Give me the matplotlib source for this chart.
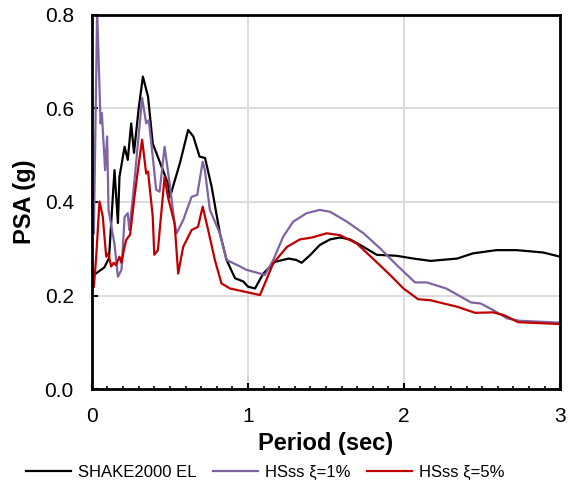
import numpy as np
import matplotlib
matplotlib.use("Agg")
from matplotlib import pyplot as plt
from matplotlib.ticker import MultipleLocator

plt.rcParams['font.family'] = ['Liberation Sans', 'DejaVu Sans']

# SHAKE2000 EL
t_shake = [0.013, 0.08, 0.11, 0.145, 0.167, 0.177, 0.21, 0.23, 0.252, 0.27,
           0.30, 0.327, 0.36, 0.39, 0.43, 0.487, 0.50, 0.564, 0.617, 0.65,
           0.69, 0.725, 0.767, 0.82, 0.863, 0.917, 0.97, 1.0, 1.045, 1.098,
           1.173, 1.26, 1.31, 1.344, 1.40, 1.46, 1.526, 1.59, 1.654, 1.74,
           1.825, 1.95, 2.06, 2.17, 2.34, 2.44, 2.59, 2.72, 2.89, 3.0]
psa_shake = [0.244, 0.26, 0.28, 0.468, 0.355, 0.454, 0.518, 0.49, 0.568, 0.505,
             0.60, 0.668, 0.625, 0.525, 0.49, 0.44, 0.41, 0.483, 0.554, 0.54,
             0.497, 0.494, 0.433, 0.333, 0.276, 0.237, 0.23, 0.219, 0.215, 0.247,
             0.272, 0.279, 0.276, 0.27, 0.287, 0.308, 0.32, 0.324, 0.32, 0.304,
             0.287, 0.285, 0.279, 0.274, 0.279, 0.29, 0.297, 0.297, 0.292, 0.283]

# HSss xi=1%
t_hs1 = [0.013, 0.034, 0.056, 0.064, 0.085, 0.098, 0.107, 0.145, 0.167, 0.19,
         0.21, 0.23, 0.24, 0.263, 0.295, 0.322, 0.348, 0.365, 0.39, 0.412,
         0.434, 0.466, 0.498, 0.53, 0.543, 0.585, 0.639, 0.675, 0.71, 0.724,
         0.756, 0.82, 0.863, 0.95, 0.99, 1.109, 1.162, 1.226, 1.29, 1.376,
         1.46, 1.526, 1.633, 1.74, 1.846, 1.953, 2.07, 2.145, 2.27, 2.43,
         2.49, 2.57, 2.66, 2.74, 3.0]
psa_hs1 = [0.333, 0.81, 0.568, 0.59, 0.468, 0.54, 0.383, 0.31, 0.24, 0.255,
           0.368, 0.376, 0.34, 0.41, 0.525, 0.622, 0.568, 0.575, 0.497, 0.426,
           0.422, 0.518, 0.44, 0.354, 0.333, 0.361, 0.411, 0.415, 0.486, 0.468,
           0.383, 0.333, 0.276, 0.262, 0.255, 0.244, 0.276, 0.326, 0.358, 0.376,
           0.383, 0.379, 0.358, 0.333, 0.301, 0.265, 0.228, 0.228, 0.215, 0.185,
           0.183, 0.169, 0.151, 0.146, 0.142]

# HSss xi=5%
t_hs5 = [0.013, 0.028, 0.049, 0.07, 0.092, 0.105, 0.124, 0.14, 0.155, 0.177,
         0.19, 0.205, 0.22, 0.245, 0.273, 0.295, 0.322, 0.348, 0.36, 0.39,
         0.40, 0.423, 0.466, 0.487, 0.53, 0.553, 0.585, 0.639, 0.68, 0.71,
         0.745, 0.788, 0.83, 0.885, 1.077, 1.162, 1.25, 1.333, 1.41, 1.504,
         1.59, 1.697, 1.80, 1.91, 1.996, 2.09, 2.167, 2.34, 2.455, 2.57,
         2.64, 2.73, 3.0]
psa_hs5 = [0.219, 0.283, 0.401, 0.369, 0.283, 0.29, 0.262, 0.27, 0.265, 0.283,
           0.27, 0.297, 0.319, 0.33, 0.411, 0.468, 0.533, 0.461, 0.465, 0.369,
           0.287, 0.297, 0.454, 0.411, 0.354, 0.247, 0.304, 0.34, 0.347, 0.39,
           0.34, 0.276, 0.226, 0.215, 0.201, 0.269, 0.304, 0.32, 0.324, 0.333,
           0.329, 0.311, 0.279, 0.244, 0.215, 0.192, 0.19, 0.176, 0.163, 0.164,
           0.158, 0.143, 0.139]

fig = plt.figure(figsize=(5.74, 4.95), dpi=100)
ax = fig.add_axes([0.160, 0.214, 0.816, 0.756])

ax.plot(t_shake, psa_shake, color='black', lw=1.6, label='SHAKE2000 EL')
ax.plot(t_hs1, psa_hs1, color='#8064a2', lw=1.6, label='HSss ξ=1%')
ax.plot(t_hs5, psa_hs5, color='#c00000', lw=1.6, label='HSss ξ=5%')

ax.set_xlim(0, 3)
ax.set_ylim(0, 0.8)
ax.set_xticks([0, 1, 2, 3])
ax.xaxis.set_minor_locator(MultipleLocator(0.1))
ax.set_yticks(np.arange(0, 0.81, 0.2))
ax.set_yticklabels(['0.0', '0.2', '0.4', '0.6', '0.8'])
ax.grid(True, which='major', color='#d9d9d9', lw=1.3)
ax.set_axisbelow(True)
for s in ax.spines.values():
    s.set_linewidth(2)
    s.set_color('black')
ax.tick_params(which='major', direction='in', length=4, width=1.5,
               labelsize=15, pad=13)
ax.tick_params(axis='x', which='minor', direction='in', length=2.5, width=1.2)

ax.set_xlabel('Period (sec)', fontsize=17, fontweight='bold', labelpad=4)
ax.set_ylabel('PSA (g)', fontsize=17, fontweight='bold', labelpad=6)

fig.legend(loc='lower center', bbox_to_anchor=(0.462, 0.0), ncol=3, frameon=False,
           fontsize=12, handlelength=2.7, columnspacing=1.0, handletextpad=0.4)

fig.savefig('out.png', dpi=100)
